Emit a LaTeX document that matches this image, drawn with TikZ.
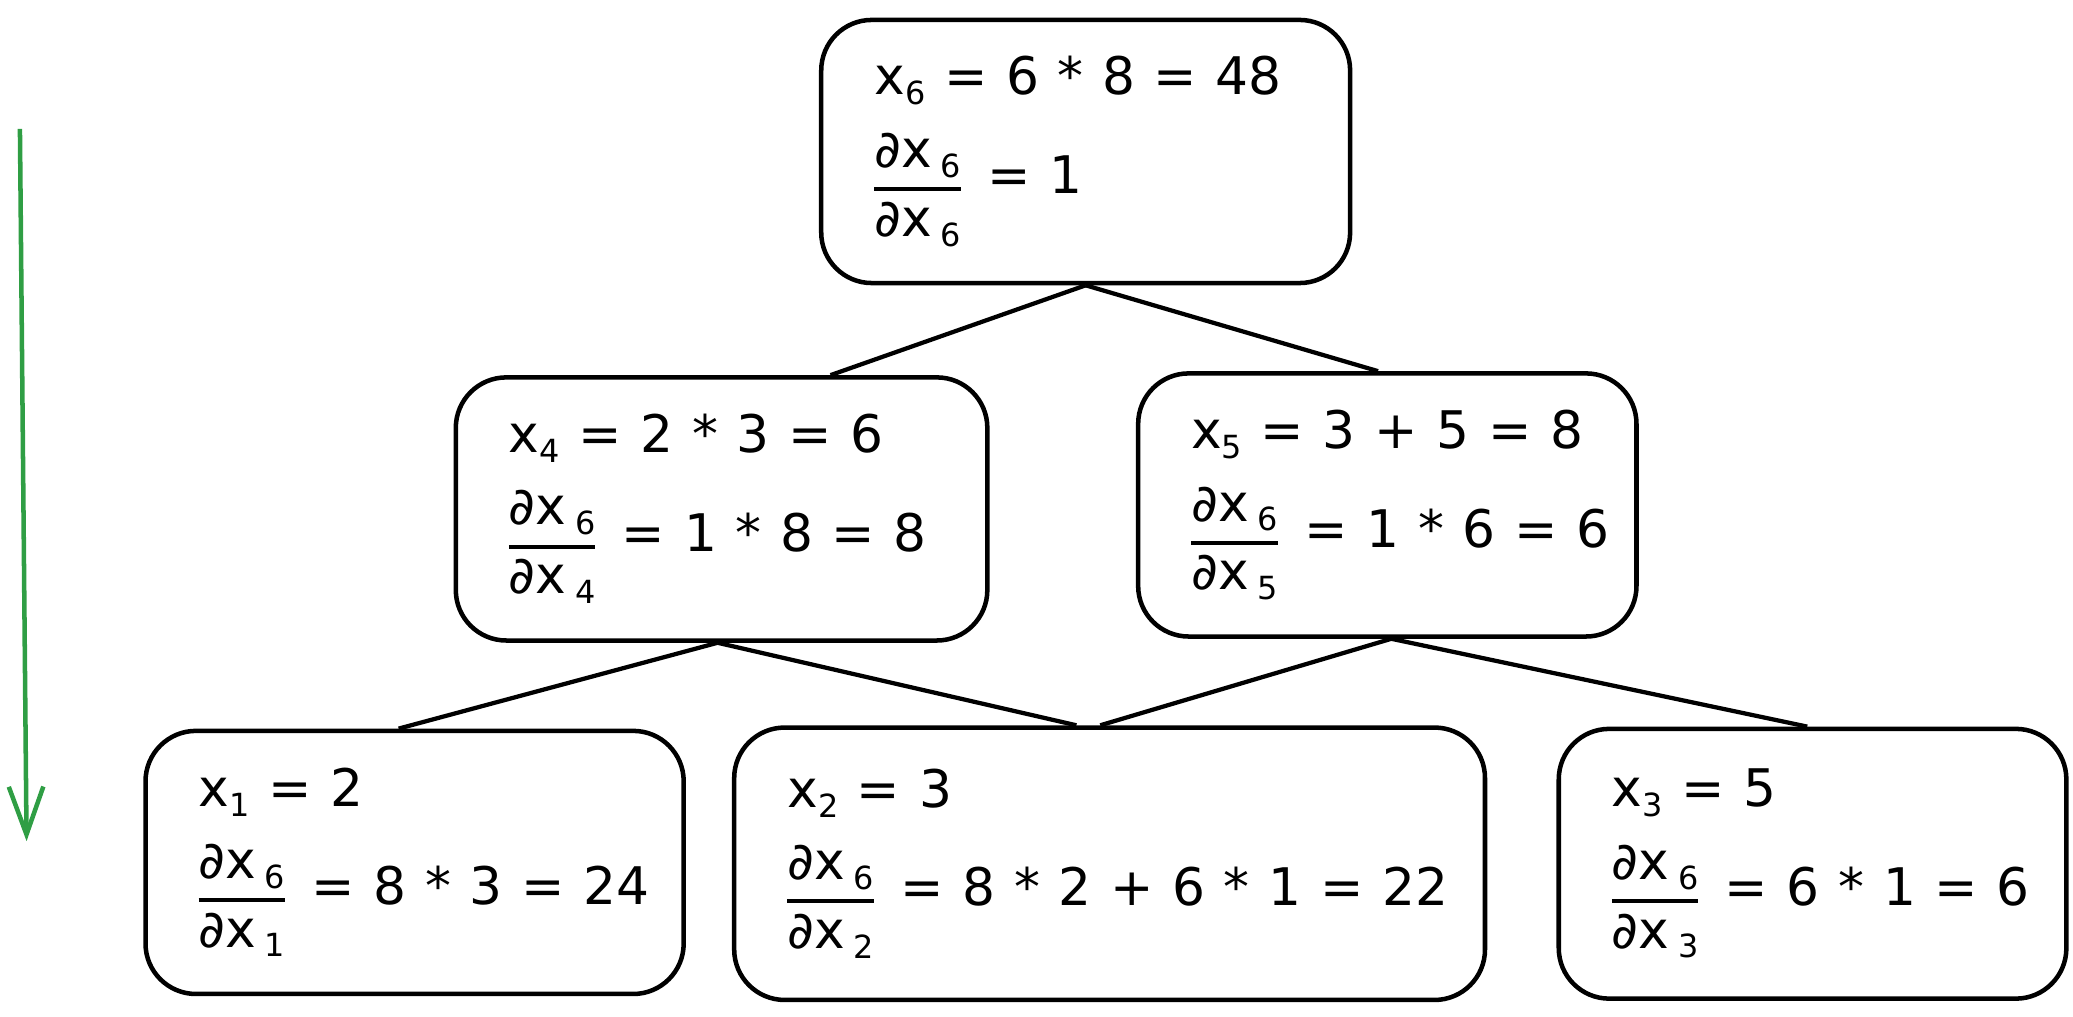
\documentclass[tikz,border=0pt]{standalone}
\usepackage{fontspec}
\setmainfont{DejaVu Sans}
\usetikzlibrary{arrows.meta,calc}
\definecolor{flowgreen}{HTML}{2F9E44}
\newcommand{\subn}[1]{\raisebox{-0.35ex}{\fontsize{24}{24}\selectfont #1}}
\newcommand{\pd}[2]{\raisebox{-32pt}{\vbox{\halign{\hfil##\hfil\cr ∂x\,\subn{#1}\cr\noalign{\kern7pt\hrule height3pt\kern8pt}∂x\,\subn{#2}\cr}}}\kern6pt\relax}
\newcommand{\oneline}[1]{\mbox{\spaceskip 0.36em plus 0.1em\relax #1}}
\begin{document}
\begin{tikzpicture}[x=1pt,y=-1pt,
  box/.style={draw, line width=3.4pt, rounded corners=38pt, inner xsep=40pt, inner ysep=0pt,
    align=left, anchor=center, font=\fontsize{39}{46}\selectfont},
  link/.style={line width=3.2pt},
  flow/.style={draw=flowgreen, line width=3.4pt, -{Straight Barb[length=36pt,width=26pt,line width=3.4pt]}}]
\useasboundingbox (0,0) rectangle (1560,765);

\node[box, minimum width=398pt, minimum height=198pt, text width=318pt] (top) at (817,114)
  {\oneline{x\subn{6} = 6 * 8 = 48}\\[20pt] \oneline{\pd{6}{6} = 1}};
\node[box, minimum width=400pt, minimum height=198pt, text width=320pt] (ml) at (543,383)
  {\oneline{x\subn{4} = 2 * 3 = 6}\\[20pt] \oneline{\pd{6}{4} = 1 * 8 = 8}};
\node[box, minimum width=375pt, minimum height=198pt, text width=295pt] (mr) at (1044,380)
  {\oneline{x\subn{5} = 3 + 5 = 8}\\[20pt] \oneline{\pd{6}{5} = 1 * 6 = 6}};
\node[box, minimum width=405pt, minimum height=198pt, text width=325pt] (bl) at (312,649)
  {\oneline{x\subn{1} = 2}\\[20pt] \oneline{\pd{6}{1} = 8 * 3 = 24}};
\node[box, minimum width=565pt, minimum height=205pt, text width=485pt] (bm) at (835,650)
  {\oneline{x\subn{2} = 3}\\[20pt] \oneline{\pd{6}{2} = 8 * 2 + 6 * 1 = 22}};
\node[box, minimum width=382pt, minimum height=203pt, text width=302pt] (br) at (1364,650)
  {\oneline{x\subn{3} = 5}\\[20pt] \oneline{\pd{6}{3} = 6 * 1 = 6}};

\draw[link] (top.south) -- ([xshift=82pt]ml.north);
\draw[link] (top.south) -- ([xshift=-7pt]mr.north);
\draw[link] ([xshift=-3pt]ml.south) -- ([xshift=-12pt]bl.north);
\draw[link] ([xshift=-3pt]ml.south) -- ([xshift=-25pt]bm.north);
\draw[link] ([xshift=3pt]mr.south) -- ([xshift=-7pt]bm.north);
\draw[link] ([xshift=3pt]mr.south) -- ([xshift=-4pt]br.north);

\coordinate (g1) at (15,97);
\coordinate (g2) at (20,633);
\draw[flow] (g1) -- (g2);
\end{tikzpicture}
\end{document}
